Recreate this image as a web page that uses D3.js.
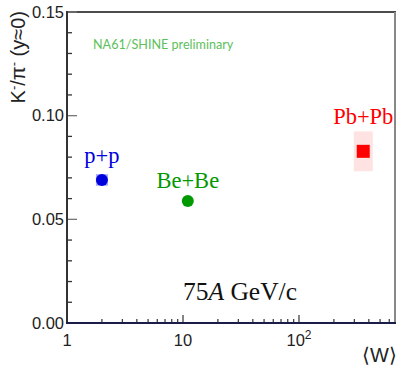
<!DOCTYPE html>
<html>
<head>
<meta charset="utf-8">
<script src="https://cdn.jsdelivr.net/npm/d3@7"></script>
<style>
  body { margin: 0; background: #fff; }
  svg { display: block; }
</style>
</head>
<body>
<div class="chart"></div>
<script>
    'use strict';

    // systems measured at 75A GeV/c
    const systems = ['p+p', 'Be+Be', 'Pb+Pb'];
    const wounded = [2, 11, 358];
    const ratio = [0.069, 0.0588, 0.0828];
    const sysErr = [0.0028, 0.001, 0.0096];
    const colors = ['#0000dd', '#009900', '#ff0000'];
    const boxColors = ['#a8a8ff', '#a0dca0', '#ffe2e2'];
    const yTicks = [0.00, 0.05, 0.10, 0.15];
    const xTicks = [1, 10, 100];

    const width = 398, height = 370;
    const margin = { top: 12, left: 67, right: 2, bottom: 47 };

    const svg = d3.select('.chart').append('svg').attr('width', width).attr('height', height);

    const x = d3.scaleLog().domain([1, 686]).range([margin.left, width - margin.right]);
    const y = d3.scaleLinear().domain([0, 0.15]).range([height - margin.bottom, margin.top]);

    // frame
    svg.append('line').attr('x1', x.range()[0]).attr('x2', x.range()[1]).attr('y1', y(0.15)).attr('y2', y(0.15))
        .attr('stroke', '#111').attr('stroke-width', 1.5);
    svg.append('line').attr('x1', x.range()[1] - 1).attr('x2', x.range()[1] - 1).attr('y1', y(0.15)).attr('y2', y(0))
        .attr('stroke', '#888').attr('stroke-width', 2);

    // y axis
    const yAxis = d3.axisLeft(y).tickValues(yTicks).tickFormat(d3.format('.2f')).tickSize(0).tickPadding(3);
    svg.append('g').attr('transform', 'translate(' + margin.left + ',0)').call(yAxis)
        .call(function (g) {
            g.select('.domain').remove();
            g.selectAll('text').style('font-family', 'Liberation Sans, Arial, sans-serif').style('font-size', '16.5px').attr('fill', '#222');
        });
    const yMinor = d3.range(0, 0.1501, 0.01);
    svg.append('g').selectAll('line').data(yMinor).enter().append('line')
        .attr('x1', margin.left)
        .attr('x2', function (d, i) { return margin.left + (i % 5 === 0 ? 10 : 5); })
        .attr('y1', function (d) { return y(d); })
        .attr('y2', function (d) { return y(d); })
        .attr('stroke', function (d, i) { return i % 5 === 0 ? '#777' : '#333'; })
        .attr('stroke-width', 1.3);
    svg.append('line').attr('x1', margin.left).attr('x2', margin.left).attr('y1', y(0.15) - 1).attr('y2', y(0) + 1)
        .attr('stroke', '#333').attr('stroke-width', 2);

    // x axis
    const xMinor = [];
    for (let dec = 1; dec <= 100; dec *= 10) {
        for (let m = 1; m < 10; m++) {
            if (dec * m <= 686) xMinor.push(dec * m);
        }
    }
    svg.append('g').selectAll('line').data(xMinor).enter().append('line')
        .attr('x1', function (d) { return x(d); })
        .attr('x2', function (d) { return x(d); })
        .attr('y1', y(0))
        .attr('y2', function (d) { return y(0) - (xTicks.indexOf(d) >= 0 ? 8 : 4); })
        .attr('stroke', '#333').attr('stroke-width', 1.2);
    svg.append('line').attr('x1', margin.left - 1).attr('x2', x.range()[1]).attr('y1', y(0)).attr('y2', y(0))
        .attr('stroke', '#1c1c48').attr('stroke-width', 2);

    const xLab = svg.append('g').selectAll('text').data(xTicks).enter().append('text')
        .attr('x', function (d) { return x(d); })
        .attr('y', y(0) + 23)
        .attr('text-anchor', 'middle')
        .style('font-family', 'Liberation Sans, Arial, sans-serif').style('font-size', '16.5px').attr('fill', '#222');
    xLab.each(function (d) {
        const t = d3.select(this);
        if (d === 100) {
            t.append('tspan').text('10');
            t.append('tspan').attr('dy', -7).style('font-size', '12px').text('2');
        } else {
            t.text(d);
        }
    });

    // axis titles
    svg.append('text').attr('x', width - 1).attr('y', 362).attr('text-anchor', 'end')
        .style('font-family', 'Liberation Sans, Arial, sans-serif').style('font-size', '20px').attr('fill', '#222')
        .text('\u27e8W\u27e9');

    const yTitle = svg.append('text').attr('transform', 'translate(25,' + 11 + ') rotate(-90)').attr('text-anchor', 'end')
        .style('font-family', 'Liberation Sans, Arial, sans-serif').style('font-size', '20px').attr('fill', '#222');
    yTitle.append('tspan').text('K');
    yTitle.append('tspan').attr('dy', -7).style('font-size', '13px').text('-');
    yTitle.append('tspan').attr('dy', 7).text('/\u03c0');
    yTitle.append('tspan').attr('dy', -7).style('font-size', '13px').text('-');
    yTitle.append('tspan').attr('dy', 7).text(' (y\u22480)');

    // points with systematic boxes
    const pts = systems.map(function (s, i) {
        return { name: s, w: wounded[i], r: ratio[i], e: sysErr[i], c: colors[i], bc: boxColors[i] };
    });
    const boxW = [12, 8, 19];
    svg.append('g').selectAll('rect').data(pts).enter().append('rect')
        .attr('x', function (d, i) { return x(d.w) - boxW[i] / 2; })
        .attr('y', function (d) { return y(d.r + d.e); })
        .attr('width', function (d, i) { return boxW[i]; })
        .attr('height', function (d) { return y(d.r - d.e) - y(d.r + d.e); })
        .attr('fill', function (d) { return d.bc; });

    const marks = svg.append('g');
    pts.forEach(function (d) {
        if (d.name === 'Pb+Pb') {
            marks.append('rect').attr('x', x(d.w) - 6.5).attr('y', y(d.r) - 6.5).attr('width', 13).attr('height', 13).attr('fill', d.c);
        } else {
            marks.append('circle').attr('cx', x(d.w)).attr('cy', y(d.r)).attr('r', 6).attr('fill', d.c);
        }
    });

    const labelDy = [-17, -13, -27];
    svg.append('g').selectAll('text').data(pts).enter().append('text')
        .attr('x', function (d) { return x(d.w); })
        .attr('y', function (d, i) { return y(d.r) + labelDy[i]; })
        .attr('text-anchor', 'middle')
        .style('font-family', 'Liberation Serif, Times New Roman, serif').style('font-size', '22.5px')
        .attr('fill', function (d) { return d.c; })
        .text(function (d) { return d.name; });

    const energy = svg.append('text').attr('x', 240).attr('y', 300).attr('text-anchor', 'middle')
        .style('font-family', 'Liberation Serif, Times New Roman, serif').style('font-size', '25.5px').attr('fill', '#111');
    energy.append('tspan').text('75');
    energy.append('tspan').style('font-style', 'italic').text('A');
    energy.append('tspan').text(' GeV/c');

    svg.append('text').attr('x', 93).attr('y', 49)
        .style('font-family', 'Lato, sans-serif').style('font-size', '12.6px').attr('fill', '#5cbf5c')
        .text('NA61/SHINE preliminary');
</script>
</body>
</html>
